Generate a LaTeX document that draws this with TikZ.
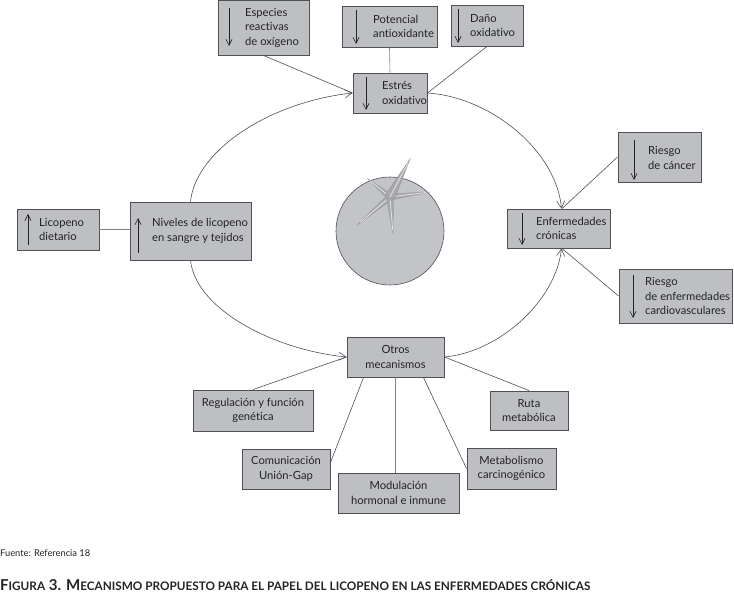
\documentclass[tikz,border=0pt]{standalone}
\usepackage{fontspec}
\setmainfont{Lato}[Ligatures={NoCommon,NoRare,NoDiscretionary}]
\usetikzlibrary{arrows.meta,calc}
\definecolor{boxfill}{RGB}{190,191,194}
\definecolor{circfill}{RGB}{195,196,199}
\definecolor{edgec}{RGB}{80,80,85}
\definecolor{txt}{RGB}{35,35,35}
\definecolor{starc}{RGB}{168,169,173}
\newcommand{\mysmc}[1]{{\fontsize{8.6}{10}\selectfont #1}}
\newcommand{\nti}{t\kern0pt i}
\begin{document}
\begin{tikzpicture}[x=1pt,y=-1pt,
  boxs/.style={draw=edgec,line width=0.9pt,fill=boxfill,inner sep=0pt},
  lbl/.style={inner sep=0pt,align=left,font=\fontsize{11.2}{14.5}\selectfont,text=txt},
  clbl/.style={inner sep=0pt,align=center,font=\fontsize{11.2}{14.5}\selectfont,text=txt},
  link/.style={draw=edgec,line width=0.6pt},
  flow/.style={draw=edgec,line width=0.6pt,-{Straight Barb[length=7pt,width=8pt]}},
  inarrow/.style={draw=txt,line width=0.6pt,-{Straight Barb[length=6pt,width=6pt]}}]
\useasboundingbox (0,0) rectangle (734,596);

% boxes
\node[boxs,minimum width=91pt,minimum height=55pt] (esp) at (263.5,27.5) {};
\node[boxs,minimum width=95pt,minimum height=41pt] (pot) at (389.5,26.5) {};
\node[boxs,minimum width=72pt,minimum height=41pt] (dano) at (487,25.5) {};
\node[boxs,minimum width=74pt,minimum height=40pt] (estres) at (390,93) {};
\node[boxs,minimum width=83pt,minimum height=50pt] (cancer) at (659.5,157) {};
\node[boxs,minimum width=103pt,minimum height=39pt] (enf) at (558.5,228.5) {};
\node[boxs,minimum width=113pt,minimum height=54pt] (cardio) at (675.5,296) {};
\node[boxs,minimum width=82pt,minimum height=41pt] (lic) at (58,229.5) {};
\node[boxs,minimum width=121pt,minimum height=58pt] (niv) at (190.5,231) {};
\node[boxs,minimum width=97pt,minimum height=40pt] (otros) at (395.5,357) {};
\node[boxs,minimum width=120pt,minimum height=41pt] (reg) at (253,410.5) {};
\node[boxs,minimum width=78pt,minimum height=39pt] (ruta) at (529,410.5) {};
\node[boxs,minimum width=88pt,minimum height=40pt] (com) at (286,469) {};
\node[boxs,minimum width=121pt,minimum height=40pt] (mod) at (398.5,493) {};
\node[boxs,minimum width=89pt,minimum height=41pt] (meta) at (511.5,468.5) {};

% texts
\node[lbl,anchor=west] (esp-t) at (245,27.5) {Especies\\reac\nti vas\\de oxígeno};
\node[lbl,anchor=west] (pot-t) at (373,26.5) {Potencial\\an\nti oxidante};
\node[lbl,anchor=west] (dano-t) at (470,25.5) {Daño\\oxida\nti vo};
\node[lbl,anchor=west] (estres-t) at (382,93) {Estrés\\oxida\nti vo};
\node[lbl,anchor=west] (cancer-t) at (648,158) {Riesgo\\de cáncer};
\node[lbl,anchor=west] (enf-t) at (536,228.5) {Enfermedades\\crónicas};
\node[lbl,anchor=west] (cardio-t) at (645,296) {Riesgo\\de enfermedades\\cardiovasculares};
\node[lbl,anchor=west] (lic-t) at (39,229.5) {Licopeno\\dietario};
\node[lbl,anchor=west] (niv-t) at (152,231) {Niveles de licopeno\\en sangre y tejidos};
\node[clbl] (otros-t) at (otros) {Otros\\mecanismos};
\node[clbl] (reg-t) at (reg) {Regulación y función\\genética};
\node[clbl] (ruta-t) at (ruta) {Ruta\\metabólica};
\node[clbl] (com-t) at (com) {Comunicación\\Unión-Gap};
\node[clbl] (mod-t) at (mod) {Modulación\\hormonal e inmune};
\node[clbl] (meta-t) at (meta) {Metabolismo\\carcinogénico};

% arrows inside boxes
\draw[inarrow] (229,8) -- (229,46);
\draw[inarrow] (356,10) -- (356,44);
\draw[inarrow] (458,9) -- (458,43);
\draw[inarrow] (366,77) -- (366,110);
\draw[inarrow] (634,140) -- (634,180);
\draw[inarrow] (522,213) -- (522,245);
\draw[inarrow] (633,275) -- (633,318);
\draw[inarrow] (28,245) -- (28,214);
\draw[inarrow] (138,253) -- (138,218);

% tomato
\node[circle,draw=edgec,line width=0.6pt,fill=circfill,minimum size=108pt,inner sep=0pt] (tom) at (390,231) {};
\coordinate (C) at (390,197);
\coordinate (a1) at (410,159);
\coordinate (a2) at (357,225);
\coordinate (a3) at (393,234);
\coordinate (a4) at (430,192);
\coordinate (a5) at (368,179);
\foreach \t/\w in {a2/3.2,a3/3.6,a4/3.2,a5/3.2,a1/5}{
  \filldraw[fill=starc,draw=black!40,line width=0.4pt]
    ($(C)!\w pt!90:(\t)$) -- (\t) -- ($(C)!\w pt!-90:(\t)$) -- cycle;
  \draw[white!80!gray,line width=0.8pt] (C) -- ($(C)!0.9!(\t)$);
}

% connectors
\draw[link] (esp.south) -- (estres.west);
\draw[link,draw=gray] (pot.south) -- (estres.north);
\draw[link] (dano.south) -- (estres.east);
\draw[link] (cancer.west) -- ($(enf.north)+(3.5,0)$);
\draw[link] (cardio.west) -- ($(enf.south)+(3.5,0)$);
\draw[link,draw=gray] (lic.east) -- (lic.east -| niv.west);
\draw[link] (reg.north) -- (otros.west);
\draw[link] ($(com.north east)+(0,14)$) -- ($(otros.south west)+(17,0)$);
\draw[link,draw=gray] (otros.south) -- (otros.south |- mod.north);
\draw[link] (meta.west) -- ($(otros.south east)+(-21,0)$);
\draw[link] (ruta.north) -- (otros.east);

% flow curves
\draw[flow] (niv.north) .. controls (196,150) and (270,102) .. (estres.west);
\draw[flow] (estres.east) .. controls (490,97) and (556,150) .. ($(enf.north)+(3,0)$);
\draw[flow] (niv.south) .. controls (196,310) and (275,350) .. (otros.west);
\draw[flow] (otros.east) .. controls (500,352) and (556,300) .. ($(enf.south)+(3,0)$);

% source and caption
\node[anchor=base west,inner sep=0pt,font=\fontsize{9.3}{10}\selectfont,text=txt] (fuente) at (0,556) {Fuente: Referencia 18};
\node[anchor=base west,inner sep=0pt,text=txt] (caption) at (0,590)
  {\resizebox{590pt}{!}{\bfseries\fontsize{11}{12}\selectfont F\mysmc{IGURA} 3. M\mysmc{ECANISMO PROPUESTO PARA EL PAPEL DEL LICOPENO EN LAS ENFERMEDADES CRÓNICAS}}};
\end{tikzpicture}
\end{document}
